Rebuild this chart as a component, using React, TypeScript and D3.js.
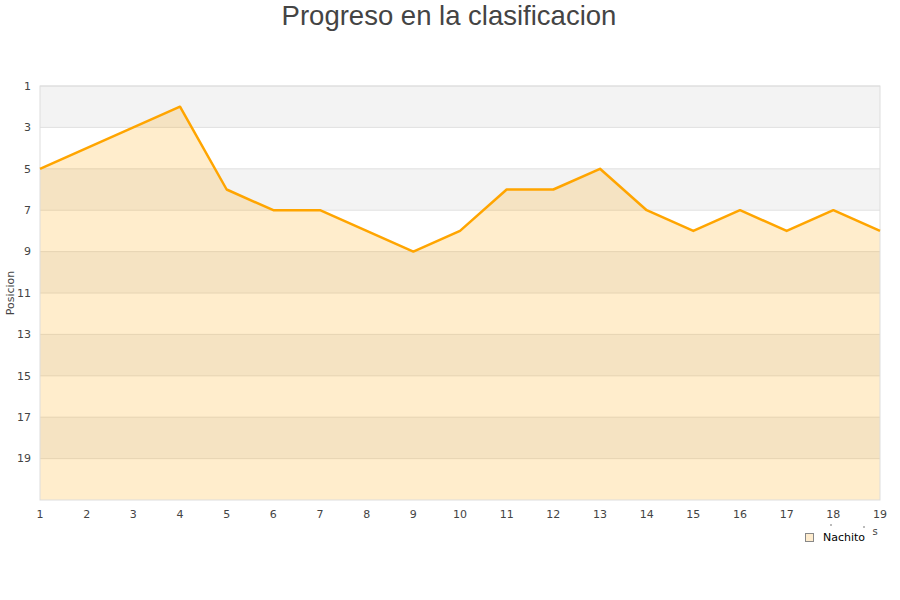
import React from "react";
import * as d3 from "d3";

const rounds: number[] = [1,2,3,4,5,6,7,8,9,10,11,12,13,14,15,16,17,18,19];
const positions: number[] = [5,4,3,2,6,7,7,8,9,8,6,6,5,7,8,7,8,7,8];
const yTicks: number[] = [1,3,5,7,9,11,13,15,17,19];
const seriesName = "Nachito";
const title = "Progreso en la clasificacion";
const yTitle = "Posicion";

const W = 900, H = 600;
const M = { left: 40, right: 880, top: 86, bottom: 500 };

export default function App() {
  const x = d3.scaleLinear().domain([1, 19]).range([M.left, M.right]);
  const y = d3.scaleLinear().domain([1, 21]).range([M.top, M.bottom]);
  const bands = d3.range(1, 21, 2);
  const line = d3.line<number>().x((_, i) => x(rounds[i])).y((d) => y(d));
  const area = d3.area<number>().x((_, i) => x(rounds[i])).y0(y(21)).y1((d) => y(d));
  const font = "'DejaVu Sans', sans-serif";
  return (
    <svg width={W} height={H} style={{ position: "absolute", left: 0, top: 0, background: "#fff" }}>
      <text x={449} y={25} textAnchor="middle" fontFamily="'Liberation Sans', Arial, sans-serif" fontSize={27.5} fill="#444">{title}</text>
      {bands.map((b, i) => (
        <rect key={b} x={M.left} y={y(b)} width={M.right - M.left} height={y(b + 2) - y(b)} fill={i % 2 === 0 ? "#f3f3f3" : "#ffffff"} />
      ))}
      {yTicks.map((t) => (
        <line key={t} x1={M.left} x2={M.right} y1={y(t)} y2={y(t)} stroke="#e0e0e0" strokeWidth={1} />
      ))}
      <path d={area(positions) || ""} fill="rgba(255,165,0,0.2)" />
      <rect x={M.left} y={M.top} width={M.right - M.left} height={M.bottom - M.top} fill="none" stroke="#dddddd" strokeWidth={1} />
      <path d={line(positions) || ""} fill="none" stroke="#ffa500" strokeWidth={2.5} strokeLinejoin="round" />
      {yTicks.map((t) => (
        <text key={t} x={31} y={y(t)} dy="0.35em" textAnchor="end" fontFamily={font} fontSize={11} fill="#444">{t}</text>
      ))}
      {rounds.map((r) => (
        <text key={r} x={x(r)} y={518} textAnchor="middle" fontFamily={font} fontSize={11} fill="#444">{r}</text>
      ))}
      <text transform={`translate(14,293) rotate(-90)`} textAnchor="middle" fontFamily={font} fontSize={11} fill="#444">{yTitle}</text>
      <circle cx={831} cy={525} r={0.7} fill="#444" />
      <circle cx={864} cy={527} r={0.7} fill="#444" />
      <text x={875} y={535} fontFamily={font} fontSize={10} fill="#444" textAnchor="middle">s</text>
      <rect x={805.5} y={533.5} width={8} height={8} fill="#feecce" stroke="#888" strokeWidth={1} />
      <text x={823} y={541} fontFamily={font} fontSize={11} fill="#000">{seriesName}</text>
    </svg>
  );
}
